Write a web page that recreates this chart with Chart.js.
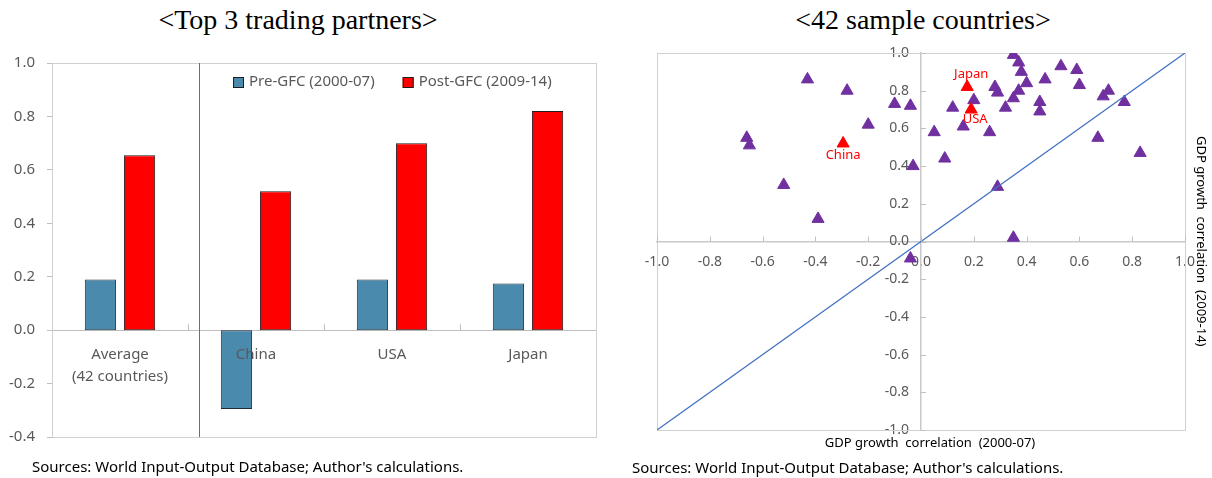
<!DOCTYPE html>
<html>
<head>
<meta charset="utf-8">
<script src="https://cdn.jsdelivr.net/npm/chart.js@4.4.1/dist/chart.umd.min.js"></script>
<style>
  body { margin: 0; width: 1212px; height: 478px; background: #fff; position: relative; overflow: hidden; font-family: "Noto Sans", sans-serif; }
  .title { position: absolute; top: 2px; font-family: "Liberation Serif", serif; font-size: 28px; line-height: 36px; color: #000; text-align: center; }
  #leftTitle { left: 0; width: 596px; }
  #rightTitle { left: 623px; width: 600px; }
  canvas { position: absolute; top: 0; }
  #barChart { left: 0; }
  #scatterChart { left: 610px; }
  .source { position: absolute; font-size: 15px; line-height: 20px; color: #000; white-space: nowrap; }
  #xTitle { position: absolute; left: 730px; width: 400px; top: 433px; text-align: center; font-size: 13px; line-height: 18px; color: #000; white-space: pre; }
  #yTitle { position: absolute; left: 1193px; top: 121px; height: 240px; width: 18px; writing-mode: vertical-rl; text-align: center; font-size: 13px; line-height: 18px; color: #000; white-space: pre; }
</style>
</head>
<body>
<div class="title" id="leftTitle">&lt;Top 3 trading partners&gt;</div>
<div class="title" id="rightTitle">&lt;42 sample countries&gt;</div>
<canvas id="barChart" width="610" height="478"></canvas>
<canvas id="scatterChart" width="602" height="478"></canvas>
<div id="xTitle">GDP growth  correlation  (2000-07)</div>
<div id="yTitle">GDP growth  correlation  (2009-14)</div>
<div class="source" style="left:32px; top:456px;">Sources: World Input-Output Database; Author's calculations.</div>
<div class="source" style="left:632px; top:457px;">Sources: World Input-Output Database; Author's calculations.</div>
<script>
// Left chart: averages and top 3 partners
const categories = [['Average', '(42 countries)'], 'China', 'USA', 'Japan'];
const seriesNames = ['Pre-GFC (2000-07)', 'Post-GFC (2009-14)'];
const preGFC = [0.19, -0.295, 0.19, 0.175];
const postGFC = [0.655, 0.52, 0.70, 0.82];

// Right chart: the other 39 sample countries (x = 2000-07, y = 2009-14)
const otherPre = [-0.43, -0.28, -0.10, -0.04, -0.20, 0.05, -0.66, -0.65, -0.03, -0.52, -0.39, -0.04,
  0.35, 0.37, 0.38, 0.53, 0.59, 0.47, 0.40, 0.60, 0.28, 0.29, 0.37, 0.71, 0.69, 0.35, 0.20, 0.77,
  0.45, 0.12, 0.32, 0.45, 0.16, 0.26, 0.67, 0.83, 0.09, 0.29, 0.35];
const otherPost = [0.86, 0.80, 0.73, 0.72, 0.62, 0.58, 0.55, 0.51, 0.40, 0.30, 0.12, -0.09,
  0.99, 0.95, 0.90, 0.93, 0.91, 0.86, 0.84, 0.83, 0.82, 0.79, 0.80, 0.80, 0.77, 0.76, 0.75, 0.74,
  0.74, 0.71, 0.71, 0.69, 0.61, 0.58, 0.55, 0.47, 0.44, 0.29, 0.02];
// the 45 degree line
const diagonalX = [-1, 1];
const diagonalY = [-1, 1];

// Partners highlighted in the scatter come from the bar data (China, USA, Japan)
const partnerNames = categories.slice(1);
const partnerPoints = partnerNames.map((n, i) => ({ x: preGFC[i + 1], y: postGFC[i + 1] }));
const otherPoints = otherPre.map((x, i) => ({ x: x, y: otherPost[i] }));

const greyText = '#595959';
const axisGrey = '#bfbfbf';

function fmt(v) {
  return Math.abs(v) < 1e-9 ? '0.0' : v.toFixed(1);
}

// grey frame round the plot area
const framePlugin = {
  id: 'frame',
  beforeDatasetsDraw(chart) {
    const a = chart.chartArea;
    const ctx = chart.ctx;
    ctx.save();
    ctx.strokeStyle = '#d0d0d0';
    ctx.lineWidth = 1;
    ctx.strokeRect(Math.round(a.left) + 0.5, Math.round(a.top) + 0.5, Math.round(a.right - a.left), Math.round(a.bottom - a.top));
    ctx.restore();
  }
};

// blue separator between the average and the partners, plus small category ticks
const dividerPlugin = {
  id: 'divider',
  afterDatasetsDraw(chart) {
    const xs = chart.scales.x, ys = chart.scales.y;
    const ctx = chart.ctx;
    const a = chart.chartArea;
    ctx.save();
    const dx = Math.round(xs.getPixelForValue(0.58)) + 0.5;
    ctx.strokeStyle = '#4472c4';
    ctx.lineWidth = 1;
    ctx.beginPath();
    ctx.moveTo(dx, a.top);
    ctx.lineTo(dx, a.bottom);
    ctx.stroke();
    const y0 = ys.getPixelForValue(0);
    ctx.strokeStyle = axisGrey;
    for (let i = 0; i < categories.length - 1; i++) {
      const tx = Math.round(xs.getPixelForValue(i + 0.5)) + 0.5;
      ctx.beginPath();
      ctx.moveTo(tx, y0 - 6);
      ctx.lineTo(tx, y0);
      ctx.stroke();
    }
    ctx.restore();
  }
};

// legend drawn inside the frame, upper right part
const legendPlugin = {
  id: 'inlineLegend',
  afterDraw(chart) {
    const ctx = chart.ctx;
    const a = chart.chartArea;
    let x = a.left + 181;
    const y = a.top + 19;
    ctx.save();
    ctx.font = '15px "Noto Sans"';
    ctx.textBaseline = 'middle';
    ctx.textAlign = 'left';
    chart.data.datasets.forEach(ds => {
      ctx.fillStyle = ds.backgroundColor;
      ctx.fillRect(x, y - 5, 11, 11);
      ctx.strokeStyle = '#1e1e1e';
      ctx.lineWidth = 1;
      ctx.strokeRect(x + 0.5, y - 4.5, 10, 10);
      ctx.fillStyle = greyText;
      ctx.fillText(ds.label, x + 16, y);
      x += 16 + ctx.measureText(ds.label).width + 28;
    });
    ctx.restore();
  }
};

new Chart(document.getElementById('barChart'), {
  type: 'bar',
  data: {
    labels: categories,
    datasets: [
      { label: seriesNames[0], data: preGFC, backgroundColor: '#4a8aad', borderColor: '#1f2f38', borderWidth: 1, borderSkipped: false, categoryPercentage: 0.575, barPercentage: 0.8 },
      { label: seriesNames[1], data: postGFC, backgroundColor: '#ff0000', borderColor: '#1e1e1e', borderWidth: 1, borderSkipped: false, categoryPercentage: 0.575, barPercentage: 0.8 }
    ]
  },
  options: {
    responsive: false,
    animation: false,
    layout: { padding: { left: 0, top: 63, right: 14, bottom: 41 } },
    scales: {
      x: {
        position: { y: 0 },
        afterFit: s => { s.height = 0; },
        grid: { drawOnChartArea: false, drawTicks: false },
        border: { color: axisGrey, width: 1 },
        ticks: { color: greyText, font: { size: 15, family: 'Noto Sans', lineHeight: 1.45 }, padding: 14, z: 1, maxRotation: 0, autoSkip: false }
      },
      y: {
        min: -0.4,
        max: 1.0,
        afterFit: s => { s.width = 52; },
        grid: { drawOnChartArea: false, tickLength: 5, color: axisGrey },
        border: { color: axisGrey, width: 1 },
        ticks: { stepSize: 0.2, color: greyText, font: { size: 15, family: 'Noto Sans' }, padding: 12, callback: v => fmt(v) }
      }
    },
    plugins: {
      legend: { display: false },
      tooltip: { enabled: false }
    }
  },
  plugins: [framePlugin, dividerPlugin, legendPlugin]
});

// small ticks on the crossing axes, and the partner labels
const labelOffsets = { China: [0, 12], USA: [4, 10], Japan: [4, -13] };
const scatterExtras = {
  id: 'scatterExtras',
  afterDraw(chart) {
    const xs = chart.scales.x, ys = chart.scales.y;
    const ctx = chart.ctx;
    const x0 = xs.getPixelForValue(0), y0 = ys.getPixelForValue(0);
    ctx.save();
    ctx.strokeStyle = axisGrey;
    ctx.lineWidth = 1;
    xs.ticks.forEach(t => {
      const px = Math.round(xs.getPixelForValue(t.value)) + 0.5;
      ctx.beginPath(); ctx.moveTo(px, y0 - 5); ctx.lineTo(px, y0); ctx.stroke();
    });
    ys.ticks.forEach(t => {
      const py = Math.round(ys.getPixelForValue(t.value)) + 0.5;
      ctx.beginPath(); ctx.moveTo(x0, py); ctx.lineTo(x0 + 5, py); ctx.stroke();
    });
    const meta = chart.getDatasetMeta(1);
    ctx.fillStyle = '#ff0000';
    ctx.font = '13px "Noto Sans"';
    ctx.textAlign = 'center';
    ctx.textBaseline = 'middle';
    meta.data.forEach((pt, i) => {
      const off = labelOffsets[partnerNames[i]];
      ctx.fillText(partnerNames[i], pt.x + off[0], pt.y + off[1]);
    });
    ctx.restore();
  }
};

const scatterTicks = { stepSize: 0.2, color: greyText, font: { size: 14, family: 'Noto Sans' }, padding: 12, autoSkip: false, maxRotation: 0, callback: v => fmt(v) };

new Chart(document.getElementById('scatterChart'), {
  type: 'scatter',
  data: {
    datasets: [
      { type: 'line', data: diagonalX.map((x, i) => ({ x: x, y: diagonalY[i] })), borderColor: '#4472c4', borderWidth: 1.3, pointRadius: 0, fill: false, order: 0 },
      { data: partnerPoints, backgroundColor: '#ff0000', borderColor: '#ff0000', pointStyle: 'triangle', pointRadius: 7, order: 1 },
      { data: otherPoints, backgroundColor: '#7030a0', borderColor: '#7030a0', pointStyle: 'triangle', pointRadius: 7, order: 2 }
    ]
  },
  options: {
    responsive: false,
    animation: false,
    layout: { padding: { left: 47, top: 53, right: 27, bottom: 48 } },
    scales: {
      x: {
        type: 'linear', min: -1, max: 1, position: 'center',
        afterFit: s => { s.height = 0; },
        grid: { drawOnChartArea: false, drawTicks: false },
        border: { color: '#c8c8c8', width: 1.5 },
        ticks: scatterTicks
      },
      y: {
        type: 'linear', min: -1, max: 1, position: 'center',
        afterFit: s => { s.width = 0; },
        grid: { drawOnChartArea: false, drawTicks: false },
        border: { color: '#c8c8c8', width: 1.5 },
        ticks: scatterTicks
      }
    },
    plugins: { legend: { display: false }, tooltip: { enabled: false } }
  },
  plugins: [framePlugin, scatterExtras]
});
</script>
</body>
</html>
